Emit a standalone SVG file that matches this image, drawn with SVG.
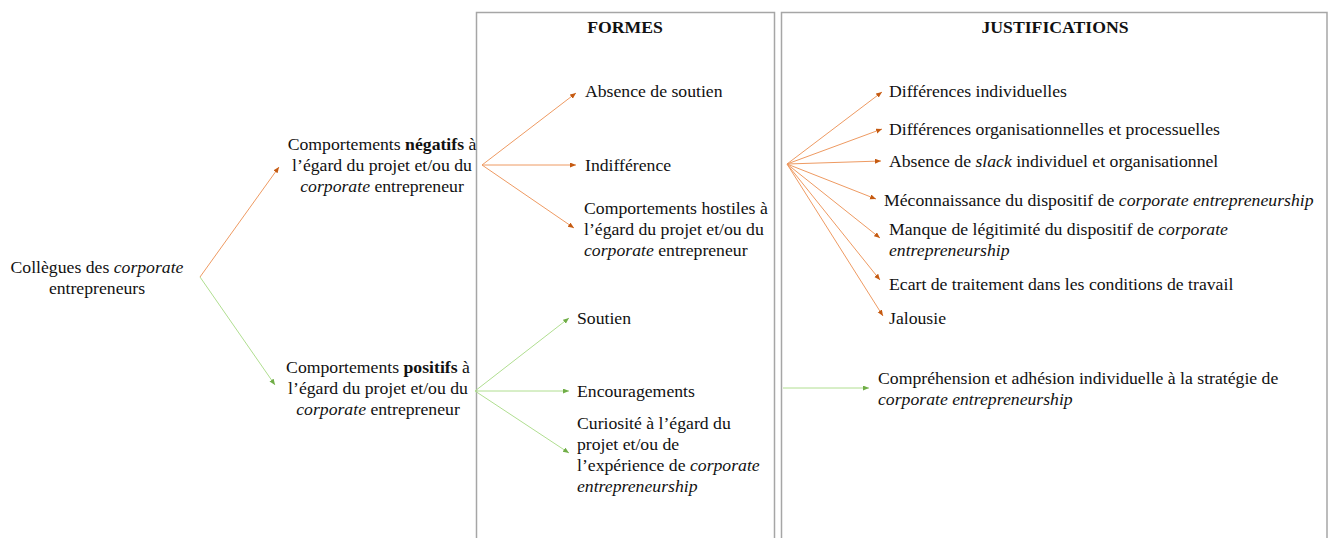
<svg xmlns="http://www.w3.org/2000/svg" width="1333" height="538" viewBox="0 0 1333 538">
<defs>
<style>
text{font-family:"Liberation Serif","Times New Roman",serif;font-size:17.7px;fill:#111;}
.b{font-weight:bold;}
.i{font-style:italic;}
.m{text-anchor:middle;}
.box{fill:none;stroke:#a6a6a6;stroke-width:1.5;}
.or{stroke:#ee9a62;stroke-width:1;fill:none;marker-end:url(#ao);}
.gr{stroke:#b0de90;stroke-width:1;fill:none;marker-end:url(#ag);}
</style>
<marker id="ao" markerUnits="userSpaceOnUse" markerWidth="7" markerHeight="6" refX="6" refY="2.5" orient="auto"><path d="M0,0 L6,2.5 L0,5 z" fill="#c55a11"/></marker>
<marker id="ag" markerUnits="userSpaceOnUse" markerWidth="7" markerHeight="6" refX="6" refY="2.5" orient="auto"><path d="M0,0 L6,2.5 L0,5 z" fill="#70ad47"/></marker>
</defs>
<rect width="1333" height="538" fill="#fff"/>
<g id="box-formes">
<rect class="box" x="476.5" y="12.5" width="298" height="540"/>
<text class="b m" x="625" y="33">FORMES</text>
</g>
<g id="box-justifications">
<rect class="box" x="781.5" y="12.5" width="545.5" height="540"/>
<text class="b m" x="1055" y="33">JUSTIFICATIONS</text>
</g>
<g id="connectors">
<line class="or" x1="200" y1="277" x2="279" y2="167"/>
<line class="gr" x1="200" y1="277" x2="275" y2="385"/>
<line class="or" x1="482" y1="165" x2="576" y2="93"/>
<line class="or" x1="482" y1="165" x2="576" y2="165"/>
<line class="or" x1="482" y1="165" x2="574" y2="228"/>
<line class="gr" x1="475" y1="391" x2="569" y2="318"/>
<line class="gr" x1="475" y1="391" x2="569" y2="391"/>
<line class="gr" x1="475" y1="391" x2="569" y2="453"/>
<line class="or" x1="787" y1="164" x2="882" y2="92"/>
<line class="or" x1="787" y1="164" x2="882" y2="129"/>
<line class="or" x1="787" y1="164" x2="881" y2="161"/>
<line class="or" x1="787" y1="164" x2="876" y2="199"/>
<line class="or" x1="787" y1="164" x2="880" y2="238"/>
<line class="or" x1="787" y1="164" x2="880" y2="280"/>
<line class="or" x1="787" y1="164" x2="883" y2="316"/>
<line class="gr" x1="783" y1="388" x2="869" y2="388"/>
</g>
<g id="n-collegues">
<text class="m" x="97" y="273">Collègues des <tspan class="i">corporate</tspan></text>
<text class="m" x="97" y="294">entrepreneurs</text>
</g>
<g id="n-negatifs">
<text class="m" x="382" y="150">Comportements <tspan class="b">négatifs</tspan> à</text>
<text class="m" x="382" y="171">l’égard du projet et/ou du</text>
<text class="m" x="382" y="192"><tspan class="i">corporate</tspan> entrepreneur</text>
</g>
<g id="n-positifs">
<text class="m" x="378" y="373">Comportements <tspan class="b">positifs</tspan> à</text>
<text class="m" x="378" y="394">l’égard du projet et/ou du</text>
<text class="m" x="378" y="415"><tspan class="i">corporate</tspan> entrepreneur</text>
</g>
<g id="f-absence">
<text x="585" y="97">Absence de soutien</text>
</g>
<g id="f-indifference">
<text x="585" y="171">Indifférence</text>
</g>
<g id="f-hostiles">
<text x="584" y="214">Comportements hostiles à</text>
<text x="584" y="235">l’égard du projet et/ou du</text>
<text x="584" y="256"><tspan class="i">corporate</tspan> entrepreneur</text>
</g>
<g id="f-soutien">
<text x="577" y="324">Soutien</text>
</g>
<g id="f-encouragements">
<text x="577" y="397">Encouragements</text>
</g>
<g id="f-curiosite">
<text x="577" y="429">Curiosité à l’égard du</text>
<text x="577" y="450">projet et/ou de</text>
<text x="577" y="471">l’expérience de <tspan class="i">corporate</tspan></text>
<text x="577" y="492" class="i">entrepreneurship</text>
</g>
<g id="j-diff-indiv">
<text x="889" y="97">Différences individuelles</text>
</g>
<g id="j-diff-org">
<text x="889" y="135">Différences organisationnelles et processuelles</text>
</g>
<g id="j-slack">
<text x="889" y="167">Absence de <tspan class="i">slack</tspan> individuel et organisationnel</text>
</g>
<g id="j-meconnaissance">
<text x="884" y="206">Méconnaissance du dispositif de <tspan class="i">corporate entrepreneurship</tspan></text>
</g>
<g id="j-legitimite">
<text x="889" y="235">Manque de légitimité du dispositif de <tspan class="i">corporate</tspan></text>
<text x="889" y="256" class="i">entrepreneurship</text>
</g>
<g id="j-ecart">
<text x="889" y="290">Ecart de traitement dans les conditions de travail</text>
</g>
<g id="j-jalousie">
<text x="889" y="324">Jalousie</text>
</g>
<g id="j-comprehension">
<text x="878" y="384">Compréhension et adhésion individuelle à la stratégie de</text>
<text x="878" y="405" class="i">corporate entrepreneurship</text>
</g>
</svg>
